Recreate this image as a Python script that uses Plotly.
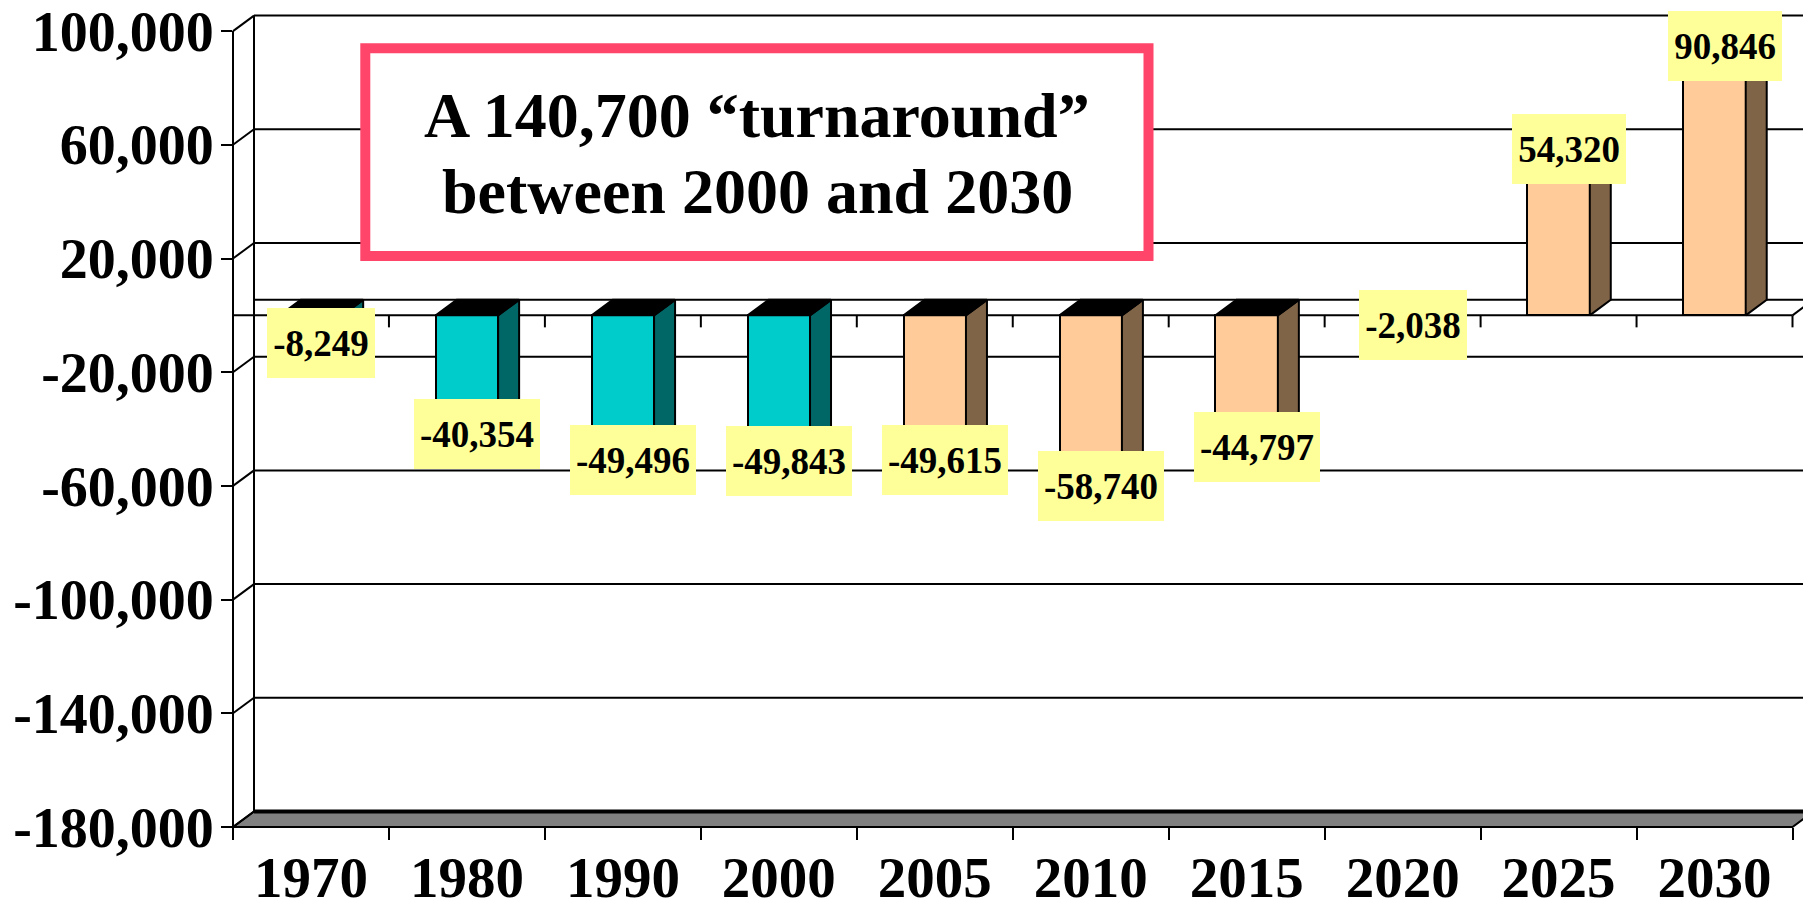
import plotly.graph_objects as go

# ---------------- data ----------------
years = ["1970", "1980", "1990", "2000", "2005", "2010", "2015", "2020", "2025", "2030"]
net_change = [-8249, -40354, -49496, -49843, -49615, -58740, -44797, -2038, 54320, 90846]
period = ["Historical"] * 4 + ["Projected"] * 6
y_ticks = [-180000, -140000, -100000, -60000, -20000, 20000, 60000, 100000]
title_lines = ["A 140,700 \u201cturnaround\u201d", "between 2000 and 2030"]

# ---------------- layout constants ----------------
W, H = 1803, 908
ML, MR, MT, MB = 233, 0, 0, 81
PLOT_W = W - ML - MR
PLOT_H = H - MT - MB
PX_PER_CAT = 155.95
PX_PER_UNIT = 2.8425 / 1000.0
Y_MIN = y_ticks[0]
Y_TOP = y_ticks[-1]
X_RANGE = [0, PLOT_W / PX_PER_CAT]
Y_RANGE = [Y_MIN, Y_MIN + PLOT_H / PX_PER_UNIT]
N = len(years)
DX = 21 / PX_PER_CAT          # depth offset (categories)
DY = 15.5 / PX_PER_UNIT       # depth offset (value units)
HW = 0.2                      # half bar width
TICK_PX = 12

FONT = "Liberation Serif"
FRONT = {"Historical": "#00CCCC", "Projected": "#FFCC99"}
SIDE = {"Historical": "#006666", "Projected": "#806448"}
LABEL_BG = "#FFFF99"
BOX_COLOR = "#FF4569"


def xp(x):
    return (x - X_RANGE[0]) / (X_RANGE[1] - X_RANGE[0])


def yp(y):
    return (y - Y_RANGE[0]) / (Y_RANGE[1] - Y_RANGE[0])


def pxx(p):
    return (p - ML) / PLOT_W


def pxy(p):
    return (H - MB - p) / PLOT_H


def pline(x0, y0, x1, y1, width=2, color="black", layer="below"):
    return dict(type="line", xref="paper", yref="paper",
                x0=xp(x0), y0=yp(y0), x1=xp(x1), y1=yp(y1),
                line=dict(color=color, width=width), layer=layer)


shapes = []
# floor
shapes.append(dict(type="path", xref="paper", yref="paper", layer="below",
                   path=f"M {xp(0)},{yp(Y_MIN)} L {xp(N)},{yp(Y_MIN)} L {xp(N+DX)},{yp(Y_MIN+DY)} "
                        f"L {xp(DX)},{yp(Y_MIN+DY)} Z",
                   fillcolor="#808080", line=dict(color="black", width=2)))
shapes.append(pline(DX, Y_MIN + DY, N + DX, Y_MIN + DY, width=4))
# back wall edges + gridlines
shapes.append(pline(DX, Y_MIN + DY, DX, Y_TOP + DY))
for v in y_ticks[1:]:
    shapes.append(pline(DX, v + DY, N + DX, v + DY))
# diagonals from front ticks to back wall
for v in y_ticks:
    shapes.append(pline(0, v, DX, v + DY))
# front value axis
shapes.append(pline(0, Y_MIN, 0, Y_TOP))
# zero plane
shapes.append(pline(0, 0, N, 0))
shapes.append(pline(DX, DY, N + DX, DY))
shapes.append(pline(N, 0, N + DX, DY))
for k in range(1, N + 1):
    shapes.append(pline(k, 0, k, -TICK_PX / PX_PER_UNIT))
# title box
shapes.append(dict(type="rect", xref="paper", yref="paper", layer="above",
                   x0=pxx(365.3), x1=pxx(1148.5), y0=pxy(48.3), y1=pxy(256),
                   fillcolor="white", line=dict(color=BOX_COLOR, width=10)))

fig = go.Figure()
centers = [i + 0.5 for i in range(N)]
fig.add_trace(go.Bar(x=centers, y=net_change, width=2 * HW,
                     marker=dict(color=[FRONT[p] for p in period],
                                 line=dict(color="black", width=2)),
                     hoverinfo="skip", showlegend=False))

for c, v, p in zip(centers, net_change, period):
    # right side face
    fig.add_trace(go.Scatter(
        x=[c + HW, c + HW + DX, c + HW + DX, c + HW, c + HW],
        y=[0, DY, v + DY, v, 0], mode="lines", fill="toself",
        fillcolor=SIDE[p], line=dict(color="black", width=2),
        hoverinfo="skip", showlegend=False))
    # top face
    ty = 0 if v < 0 else v
    fig.add_trace(go.Scatter(
        x=[c - HW, c + HW, c + HW + DX, c - HW + DX, c - HW],
        y=[ty, ty, ty + DY, ty + DY, ty], mode="lines", fill="toself",
        fillcolor="#000000" if v < 0 else FRONT[p], line=dict(color="black", width=2),
        hoverinfo="skip", showlegend=False))

annotations = []
LABEL_FS = 37
for c, v in zip(centers, net_change):
    txt = f"{v:,}"
    em = sum(0.5 if ch.isdigit() else 0.25 if ch == "," else 0.333 for ch in txt)
    annotations.append(dict(
        x=c, y=v, xref="x", yref="y", text=txt, showarrow=False,
        xanchor="center", yanchor="middle", xshift=10, yshift=11.5 if v > 0 else -4,
        bgcolor=LABEL_BG, borderpad=0, borderwidth=0,
        width=round(LABEL_FS * em) + 12, height=70,
        font=dict(family=FONT, size=LABEL_FS, color="black", weight="bold")))

for txt, py in zip(title_lines, [115, 191]):
    annotations.append(dict(
        x=pxx(757), y=pxy(py), xref="paper", yref="paper", text=txt, showarrow=False,
        xanchor="center", yanchor="middle",
        font=dict(family=FONT, size=64, color="black", weight="bold")))

fig.update_layout(
    width=W, height=H, margin=dict(l=ML, r=MR, t=MT, b=MB, autoexpand=False),
    paper_bgcolor="white", plot_bgcolor="white",
    shapes=shapes, annotations=annotations, bargap=0, showlegend=False,
    xaxis=dict(range=X_RANGE, showgrid=False, zeroline=False, showline=False,
               automargin=False,
               tickmode="array", tickvals=centers, ticktext=years, ticks="",
               ticklabelstandoff=12,
               tickfont=dict(family=FONT, size=57, color="black", weight="bold"),
               minor=dict(tickvals=list(range(N + 1)), ticks="outside", ticklen=TICK_PX,
                          tickwidth=2, tickcolor="black", showgrid=False),
               fixedrange=True),
    yaxis=dict(range=Y_RANGE, showgrid=False, zeroline=False, showline=False,
               automargin=False,
               tickmode="array", tickvals=y_ticks, ticktext=[f"{v:,}" for v in y_ticks],
               ticks="outside", ticklen=11, tickwidth=2, tickcolor="black",
               ticklabelstandoff=-4,
               tickfont=dict(family=FONT, size=56, color="black", weight="bold"),
               fixedrange=True),
)

fig.write_html("out.html", config={"displayModeBar": False},
               post_script="document.body.style.margin='0';document.body.style.overflow='hidden';")
